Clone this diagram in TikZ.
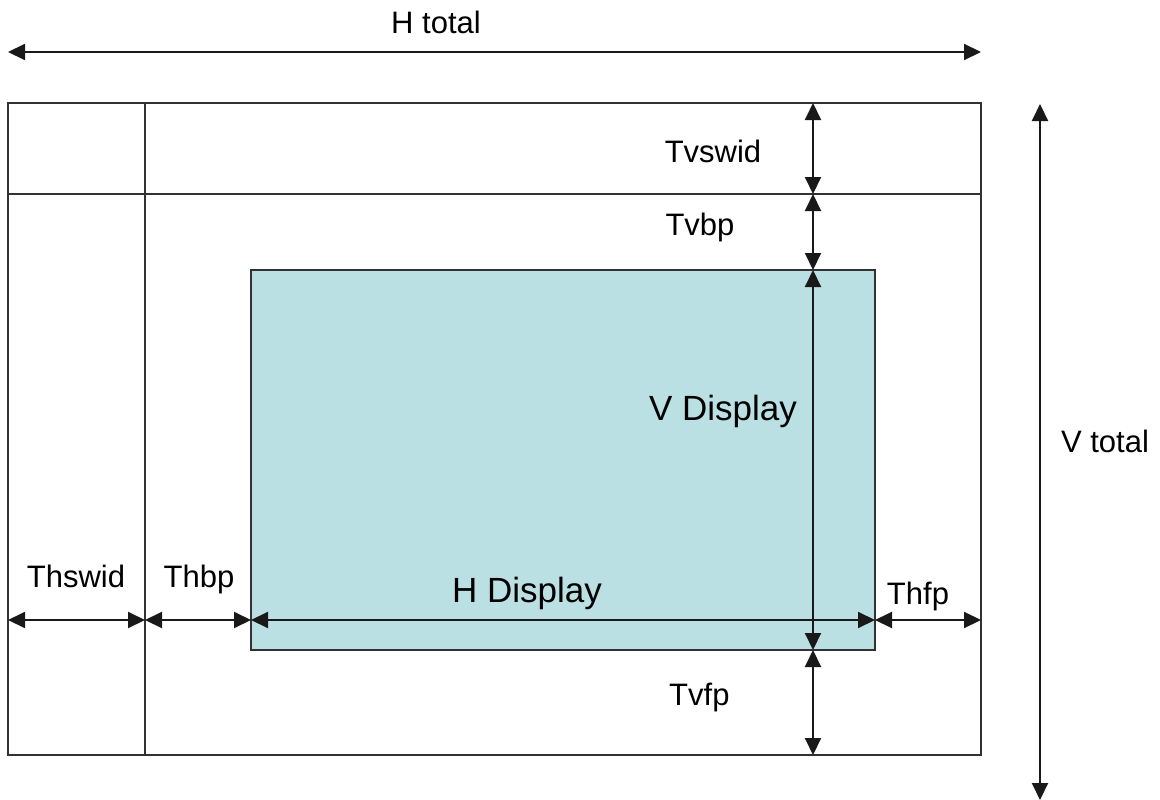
\documentclass[tikz,border=0pt]{standalone}
\usepackage{fontspec}
\setmainfont{Liberation Sans}
\usetikzlibrary{arrows.meta}
\definecolor{dispcyan}{RGB}{186,224,227}
\definecolor{framegray}{RGB}{50,50,50}
\tikzset{
  frameline/.style={draw=framegray, line width=1.4pt},
  dimarrow/.style={draw=black!90, line width=2pt, {Triangle[length=17pt,width=16pt]}-{Triangle[length=17pt,width=16pt]}},
  dimlabel/.style={anchor=base, inner sep=0pt, font=\fontsize{31}{35}\selectfont},
  biglabel/.style={anchor=base, inner sep=0pt, font=\fontsize{35}{40}\selectfont}
}
\begin{document}
\begin{tikzpicture}[x=1pt,y=-1pt]
\useasboundingbox (0,0) rectangle (1160,800);
% frame coordinates
\coordinate (oTL) at (8,103);
\coordinate (oBR) at (981,755);
\coordinate (vsT) at (145,103);
\coordinate (vsB) at (145,755);
\coordinate (hsL) at (8,194);
\coordinate (hsR) at (981,194);
\coordinate (dTL) at (251,270);
\coordinate (dBR) at (875,650);
% display area
\fill[dispcyan] (dTL) rectangle (dBR);
\draw[frameline] (dTL) rectangle (dBR);
% outer frame and sync lines
\draw[frameline] (oTL) rectangle (oBR);
\draw[frameline] (vsT) -- (vsB);
\draw[frameline] (hsL) -- (hsR);
% dimension coordinates
\coordinate (htL) at (8,52);
\coordinate (htR) at (981,52);
\coordinate (vtT) at (1040,104);
\coordinate (vtB) at (1040,800);
\coordinate (v0) at (813,103);
\coordinate (v1) at (813,194);
\coordinate (v2) at (813,270);
\coordinate (v3) at (813,650);
\coordinate (v4) at (813,755);
\coordinate (h0) at (8,620);
\coordinate (h1) at (145,620);
\coordinate (h2) at (251,620);
\coordinate (h3) at (875,620);
\coordinate (h4) at (981,620);
% arrows
\draw[dimarrow] (htL) -- (htR);
\draw[dimarrow] (vtT) -- (vtB);
\draw[dimarrow] (v0) -- (v1);
\draw[dimarrow] (v1) -- (v2);
\draw[dimarrow] (v2) -- (v3);
\draw[dimarrow] (v3) -- (v4);
\draw[dimarrow] (h0) -- (h1);
\draw[dimarrow] (h1) -- (h2);
\draw[dimarrow] (h2) -- (h3);
\draw[dimarrow] (h3) -- (h4);
% labels
\node[dimlabel] (lht) at (436,34) {H total};
\node[dimlabel] (lvt) at (1105,452) {V total};
\node[dimlabel] (lvsw) at (713,162) {Tvswid};
\node[dimlabel] (lvbp) at (700,235) {Tvbp};
\node[biglabel] (lvd) at (723,420) {V Display};
\node[dimlabel, anchor=base west] (lvfp) at (669,705) {Tvfp};
\node[dimlabel] (lhsw) at (76,587) {Thswid};
\node[dimlabel] (lhbp) at (199,587) {Thbp};
\node[biglabel] (lhd) at (527,602) {H Display};
\node[dimlabel] (lhfp) at (918,604) {Thfp};
\end{tikzpicture}
\end{document}
